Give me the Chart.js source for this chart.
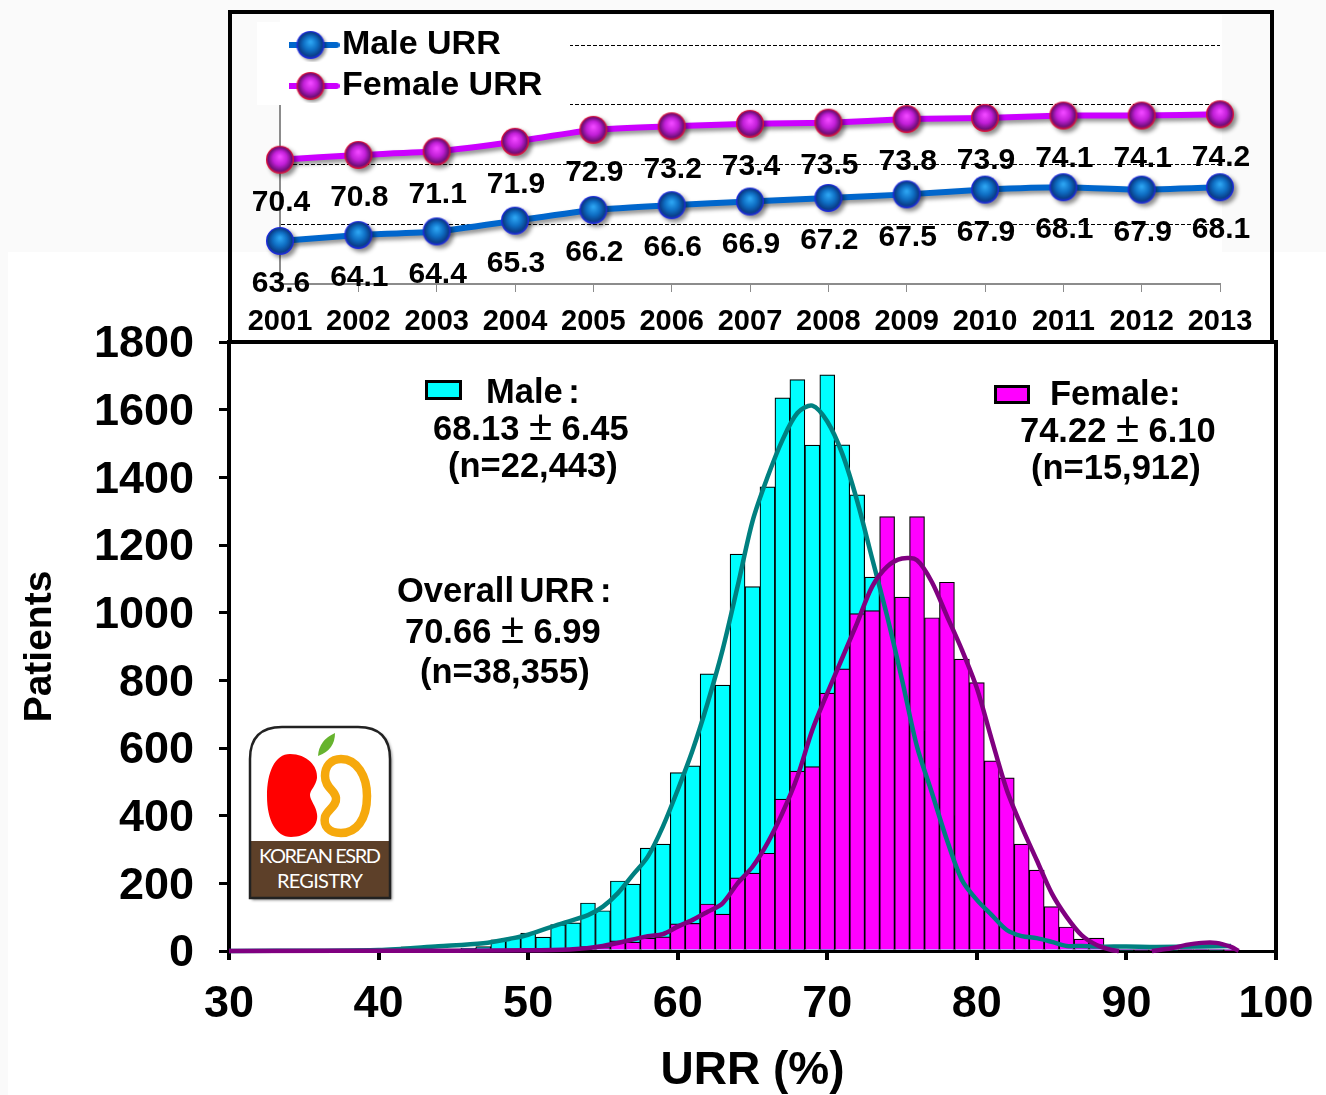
<!DOCTYPE html>
<html>
<head>
<meta charset="utf-8">
<title>URR distribution</title>
<script src="https://cdn.jsdelivr.net/npm/chart.js@4/dist/chart.umd.min.js"></script>
<style>
  html, body { margin: 0; padding: 0; }
  body { width: 1326px; height: 1095px; position: relative; overflow: hidden; background: #fafafa; font-family: "Liberation Sans", Arial, sans-serif; }
  canvas { position: absolute; left: 0; top: 0; }
  #paper { position: absolute; left: 8px; top: 252px; width: 1318px; height: 843px; background: #fff; }
  #paperTop { position: absolute; left: 280px; top: 15px; width: 942px; height: 240px; background: #fff; }
  #topBox { position: absolute; left: 228px; top: 10px; width: 1038px; height: 326px; border: 4px solid #000; }
  .note { position: absolute; font-weight: bold; font-size: 34.5px; line-height: 38px; color: #000; white-space: nowrap; }
  .tight { word-spacing: -4px; }
  .pm { font-weight: normal; font-size: 42px; line-height: 0; }
  .swatch { position: absolute; border: 3px solid #000; box-sizing: border-box; }
  #logo { position: absolute; left: 245px; top: 722px; }
</style>
</head>
<body>
<div id="paper"></div>
<div id="paperTop"></div>
<canvas id="histChart" width="1326" height="1095"></canvas>
<canvas id="trendChart" width="1326" height="345"></canvas>
<div id="topBox"></div>

<div class="swatch" style="left:425px;top:380px;width:37px;height:20px;background:#00ffff"></div>
<div class="note tight" style="left:486px;top:372px">Male :</div>
<div class="note" style="left:433px;top:409px">68.13 <span class="pm">±</span> 6.45</div>
<div class="note" style="left:448px;top:446px">(n=22,443)</div>

<div class="swatch" style="left:994px;top:385px;width:36px;height:19px;background:#ff00ff"></div>
<div class="note" style="left:1050px;top:374px">Female:</div>
<div class="note" style="left:1020px;top:411px">74.22 <span class="pm">±</span> 6.10</div>
<div class="note" style="left:1031px;top:448px">(n=15,912)</div>

<div class="note tight" style="left:397px;top:571px">Overall URR :</div>
<div class="note" style="left:405px;top:612px">70.66 <span class="pm">±</span> 6.99</div>
<div class="note" style="left:420px;top:652px">(n=38,355)</div>

<svg id="logo" width="152" height="182" viewBox="0 0 152 182">
  <defs>
    <filter id="logoShadow" x="-10%" y="-10%" width="125%" height="125%"><feDropShadow dx="2" dy="2" stdDeviation="1.5" flood-color="#000" flood-opacity="0.5"/></filter>
    <clipPath id="logoClip"><path d="M5 176V37Q5 5 37 5H113Q145 5 145 37V176Z"/></clipPath>
  </defs>
  <path d="M5 176V37Q5 5 37 5H113Q145 5 145 37V176Z" fill="#fff" filter="url(#logoShadow)"/>
  <path d="M73 34Q74 18 90 11Q90 28 73 34Z" fill="#66b32e"/>
  <path d="M45 32C62 32 73 44 72 56C71 64 65 68 65 73C65 78 71 84 72 92C74 104 62 115 46 115C31 115 22 98 22 74C22 50 30 32 45 32Z" fill="#ff0000"/>
  <path d="M96 37C112 37 122 54 122 74C122 98 111 111 96 111C84 111 78 104 80 95C82 88 92 84 91 76C90 68 80 66 80 54C80 44 86 37 96 37Z" fill="none" stroke="#f6a90d" stroke-width="8.5"/>
  <g clip-path="url(#logoClip)">
    <rect x="5" y="119" width="140" height="57" fill="#5d4029"/>
    <text x="75" y="141" text-anchor="middle" fill="#fff" font-family="Lato" font-size="20" textLength="122">KOREAN ESRD</text>
    <text x="75" y="166" text-anchor="middle" fill="#fff" font-family="Lato" font-size="20" textLength="86">REGISTRY</text>
  </g>
  <path d="M5 176V37Q5 5 37 5H113Q145 5 145 37V176Z" fill="none" stroke="#222" stroke-width="2.5"/>
</svg>

<script>
// trend panel
const years = ["2001", "2002", "2003", "2004", "2005", "2006", "2007", "2008", "2009", "2010", "2011", "2012", "2013"];
const maleUrr = [63.6, 64.1, 64.4, 65.3, 66.2, 66.6, 66.9, 67.2, 67.5, 67.9, 68.1, 67.9, 68.1];
const femaleUrr = [70.4, 70.8, 71.1, 71.9, 72.9, 73.2, 73.4, 73.5, 73.8, 73.9, 74.1, 74.1, 74.2];

// histogram bins, one per URR percent
const urrBins = [42, 43, 44, 45, 46, 47, 48, 49, 50, 51, 52, 53, 54, 55, 56, 57, 58, 59, 60, 61, 62, 63, 64, 65, 66, 67, 68, 69, 70, 71, 72, 73, 74, 75, 76, 77, 78, 79, 80, 81, 82, 83, 84, 85, 86, 87, 88, 89, 90, 91, 92, 93, 94, 95, 96, 97];
const malePatients = [12, 3, 5, 6, 9, 13, 33, 38, 53, 41, 78, 83, 142, 119, 207, 198, 304, 316, 527, 547, 819, 786, 1173, 1077, 1372, 1635, 1689, 1495, 1703, 1496, 1348, 1105, 950, 840, 650, 540, 400, 280, 170, 100, 60, 40, 25, 15, 12, 10, 8, 3, 2, 2, 2, 2, 3, 3, 2, 1];
const femalePatients = [1, 1, 1, 1, 2, 2, 3, 3, 4, 5, 5, 5, 13, 10, 30, 26, 38, 42, 80, 82, 139, 109, 216, 230, 289, 449, 532, 545, 762, 834, 997, 1006, 1284, 1046, 1284, 985, 1090, 863, 793, 562, 512, 316, 239, 131, 71, 35, 38, 3, 3, 2, 1, 3, 4, 4, 3, 1];

// fitted curves
const maleCurveX = [30, 40, 44, 47, 49, 50, 52, 54, 55, 56, 57, 58, 59, 60, 61, 62, 63, 64, 65, 66, 67, 68, 69, 70, 71, 72, 73, 74, 75, 76, 77, 78, 79, 80, 81, 82, 83, 84, 85, 86, 87, 88, 90, 92, 95, 97];
const maleCurveY = [0, 3, 14, 23, 38, 48, 78, 106, 131, 171, 225, 279, 367, 476, 594, 733, 890, 1077, 1270, 1400, 1510, 1590, 1612, 1565, 1470, 1330, 1160, 990, 801, 604, 467, 328, 210, 151, 106, 62, 44, 38, 27, 15, 15, 13, 13, 12, 13, 15];
const femaleCurveX = [30, 45, 50, 53, 55, 58, 59, 60, 61, 62, 63, 64, 65, 66, 67, 68, 69, 70, 71, 72, 73, 74, 75, 76, 77, 78, 79, 80, 81, 82, 83, 84, 85, 86, 87, 88, 89, 89.5, 90, 91.7, 93, 94, 95, 96, 97, 97.5];
const femaleCurveY = [0, 1, 2, 5, 15, 44, 50, 72, 92, 116, 141, 200, 249, 319, 408, 515, 653, 762, 866, 970, 1077, 1136, 1160, 1155, 1090, 990, 890, 777, 624, 476, 367, 269, 171, 101, 47, 18, 3, 0, null, 0, 8, 18, 24, 24, 12, 0];

const yearTicksFont = { family: "Liberation Sans", weight: "bold", size: 29 };
const histTicksFont = { family: "Liberation Sans", weight: "bold", size: 45 };

function toXY(xs, ys) {
  return xs.map((x, i) => ({ x: x, y: ys[i] }));
}

// round marker like the shaded balls in the original
function ballImage(centre, mid, dark, rim) {
  const c = document.createElement("canvas");
  c.width = 30;
  c.height = 30;
  const g = c.getContext("2d");
  const grad = g.createRadialGradient(15, 12, 1, 15, 15, 14);
  grad.addColorStop(0, centre);
  grad.addColorStop(0.45, mid);
  grad.addColorStop(0.82, dark);
  grad.addColorStop(1, rim);
  g.fillStyle = grad;
  g.beginPath();
  g.arc(15, 15, 14, 0, Math.PI * 2);
  g.fill();
  return c;
}

function legendImage(ball, color) {
  const c = document.createElement("canvas");
  c.width = 58;
  c.height = 34;
  const g = c.getContext("2d");
  g.strokeStyle = color;
  g.lineWidth = 6;
  g.lineCap = "round";
  g.beginPath();
  g.moveTo(3, 17);
  g.lineTo(55, 17);
  g.stroke();
  g.shadowColor = "rgba(0,0,0,0.4)";
  g.shadowBlur = 3;
  g.shadowOffsetX = 2;
  g.shadowOffsetY = 2;
  g.drawImage(ball, 14, 2);
  return c;
}

const maleBall = ballImage("#2ba2f0", "#0f6fc4", "#0a3f8a", "#2226ee");
const femaleBall = ballImage("#ef45ff", "#c21fd8", "#6f0f7a", "#f01030");
const legendPics = [legendImage(maleBall, "#0066cc"), legendImage(femaleBall, "#cc00ff")];

// fixes a scale's size so the plot area lands where it should
function fixSize(width, height) {
  return function (scale) {
    if (width !== null) scale.width = width;
    if (height !== null) scale.height = height;
    scale.paddingLeft = 0;
    scale.paddingRight = 0;
    scale.paddingTop = 0;
    scale.paddingBottom = 0;
  };
}

const trendPlugin = {
  id: "trendPlugin",
  beforeLayout(chart) {
    // legend has to go over the white patch, so draw it after the datasets
    const legend = chart.legend;
    legend._layers = () => [{ z: 1, draw: (area) => legend.draw(area) }];
  },
  afterLayout(chart) {
    chart.legend.left = 289;
    chart.legend.top = 21;
  },
  beforeDatasetsDraw(chart) {
    const ctx = chart.ctx;
    ctx.save();
    ctx.fillStyle = "#fff";
    ctx.fillRect(257, 22, 313, 83);
    ctx.restore();
    ctx.save();
    ctx.shadowColor = "rgba(0,0,0,0.45)";
    ctx.shadowBlur = 4;
    ctx.shadowOffsetX = 3;
    ctx.shadowOffsetY = 3;
  },
  afterDatasetsDraw(chart) {
    const ctx = chart.ctx;
    ctx.restore();
    ctx.save();
    ctx.fillStyle = "#000";
    ctx.font = "bold 30px 'Liberation Sans'";
    ctx.textAlign = "center";
    ctx.textBaseline = "middle";
    chart.data.datasets.forEach((ds, d) => {
      chart.getDatasetMeta(d).data.forEach((pt, i) => {
        ctx.fillText(ds.data[i].toFixed(1), pt.x + 1, pt.y + 43);
      });
    });
    ctx.restore();
  }
};

// top and right edges of the histogram frame
const framePlugin = {
  id: "framePlugin",
  afterLayout(chart) {
    // y labels sit a little low in the original
    chart.scales.y.getLabelItems(chart.chartArea).forEach((item) => {
      item.options.translation[1] += 3;
    });
  },
  beforeDatasetsDraw(chart) {
    const ctx = chart.ctx;
    const area = chart.chartArea;
    ctx.save();
    ctx.strokeStyle = "#000";
    ctx.lineWidth = 4;
    ctx.beginPath();
    ctx.moveTo(area.left, area.top);
    ctx.lineTo(area.right, area.top);
    ctx.lineTo(area.right, area.bottom + 9);
    ctx.stroke();
    ctx.restore();
  }
};

new Chart(document.getElementById("trendChart"), {
  type: "line",
  data: {
    labels: years,
    datasets: [
      { label: "Male URR", data: maleUrr, borderColor: "#0066cc", backgroundColor: "#0066cc", borderWidth: 6, tension: 0.15, pointStyle: maleBall, clip: false },
      { label: "Female URR", data: femaleUrr, borderColor: "#cc00ff", backgroundColor: "#cc00ff", borderWidth: 6, tension: 0.15, pointStyle: femaleBall, clip: false }
    ]
  },
  plugins: [trendPlugin],
  options: {
    responsive: false,
    animation: false,
    layout: { padding: { left: 280, top: 45, right: 106, bottom: 0 } },
    plugins: {
      tooltip: { enabled: false },
      legend: {
        position: "chartArea",
        align: "start",
        labels: {
          usePointStyle: true,
          pointStyleWidth: 29,
          padding: 7,
          color: "#000",
          font: { family: "Liberation Sans", weight: "bold", size: 34 },
          generateLabels(chart) {
            const items = Chart.defaults.plugins.legend.labels.generateLabels(chart);
            items.forEach((item, i) => { item.pointStyle = legendPics[i]; });
            return items;
          }
        }
      }
    },
    scales: {
      x: {
        offset: false,
        afterFit: fixSize(null, 61),
        border: { color: "#8c8c8c", width: 2 },
        grid: { drawOnChartArea: false, color: "#8c8c8c", tickLength: 8 },
        ticks: { color: "#000", font: yearTicksFont, padding: 13, maxRotation: 0, autoSkip: false }
      },
      y: {
        min: 60,
        max: 80,
        afterFit: fixSize(0, null),
        border: { color: "#8c8c8c", width: 2, dash: [4, 2] },
        grid: { color: "#000", lineWidth: 1, drawTicks: false },
        ticks: { display: false, stepSize: 5 }
      }
    }
  }
});

new Chart(document.getElementById("histChart"), {
  type: "bar",
  data: {
    datasets: [
      { type: "line", label: "Female curve", data: toXY(femaleCurveX, femaleCurveY), borderColor: "#800080", borderWidth: 4.5, pointRadius: 0, tension: 0.3, clip: false, order: 1 },
      { type: "line", label: "Male curve", data: toXY(maleCurveX, maleCurveY), borderColor: "#008080", borderWidth: 4.5, pointRadius: 0, tension: 0.3, clip: false, order: 2 },
      { label: "Female", data: toXY(urrBins, femalePatients), backgroundColor: "#ff00ff", borderColor: "#000", borderWidth: 1.2, grouped: false, barPercentage: 1, categoryPercentage: 1, order: 3 },
      { label: "Male", data: toXY(urrBins, malePatients), backgroundColor: "#00ffff", borderColor: "#000", borderWidth: 1.2, grouped: false, barPercentage: 1, categoryPercentage: 1, order: 4 }
    ]
  },
  plugins: [framePlugin],
  options: {
    responsive: false,
    animation: false,
    layout: { padding: { left: 0, top: 342, right: 50, bottom: 0 } },
    plugins: { legend: { display: false }, tooltip: { enabled: false } },
    scales: {
      x: {
        type: "linear",
        offset: false,
        min: 30,
        max: 100,
        afterFit: fixSize(null, 144),
        border: { color: "#000", width: 3 },
        grid: { offset: false, drawOnChartArea: false, color: "#000", lineWidth: 4, tickLength: 9 },
        ticks: { stepSize: 10, color: "#000", font: histTicksFont, padding: 18, maxRotation: 0 },
        title: { display: true, text: "URR (%)", color: "#000", font: { family: "Liberation Sans", weight: "bold", size: 46 }, padding: { top: 19, bottom: -4 } }
      },
      y: {
        min: 0,
        max: 1800,
        afterFit: fixSize(229, null),
        border: { color: "#000", width: 4 },
        grid: { drawOnChartArea: false, color: "#000", lineWidth: 3, tickLength: 10 },
        ticks: { stepSize: 200, color: "#000", font: histTicksFont, padding: 25, callback: (value) => String(value) },
        title: { display: true, text: "Patients", color: "#000", font: { family: "Liberation Sans", weight: "bold", size: 39 }, padding: { top: 17, bottom: 0 } }
      }
    }
  }
});
</script>
</body>
</html>
